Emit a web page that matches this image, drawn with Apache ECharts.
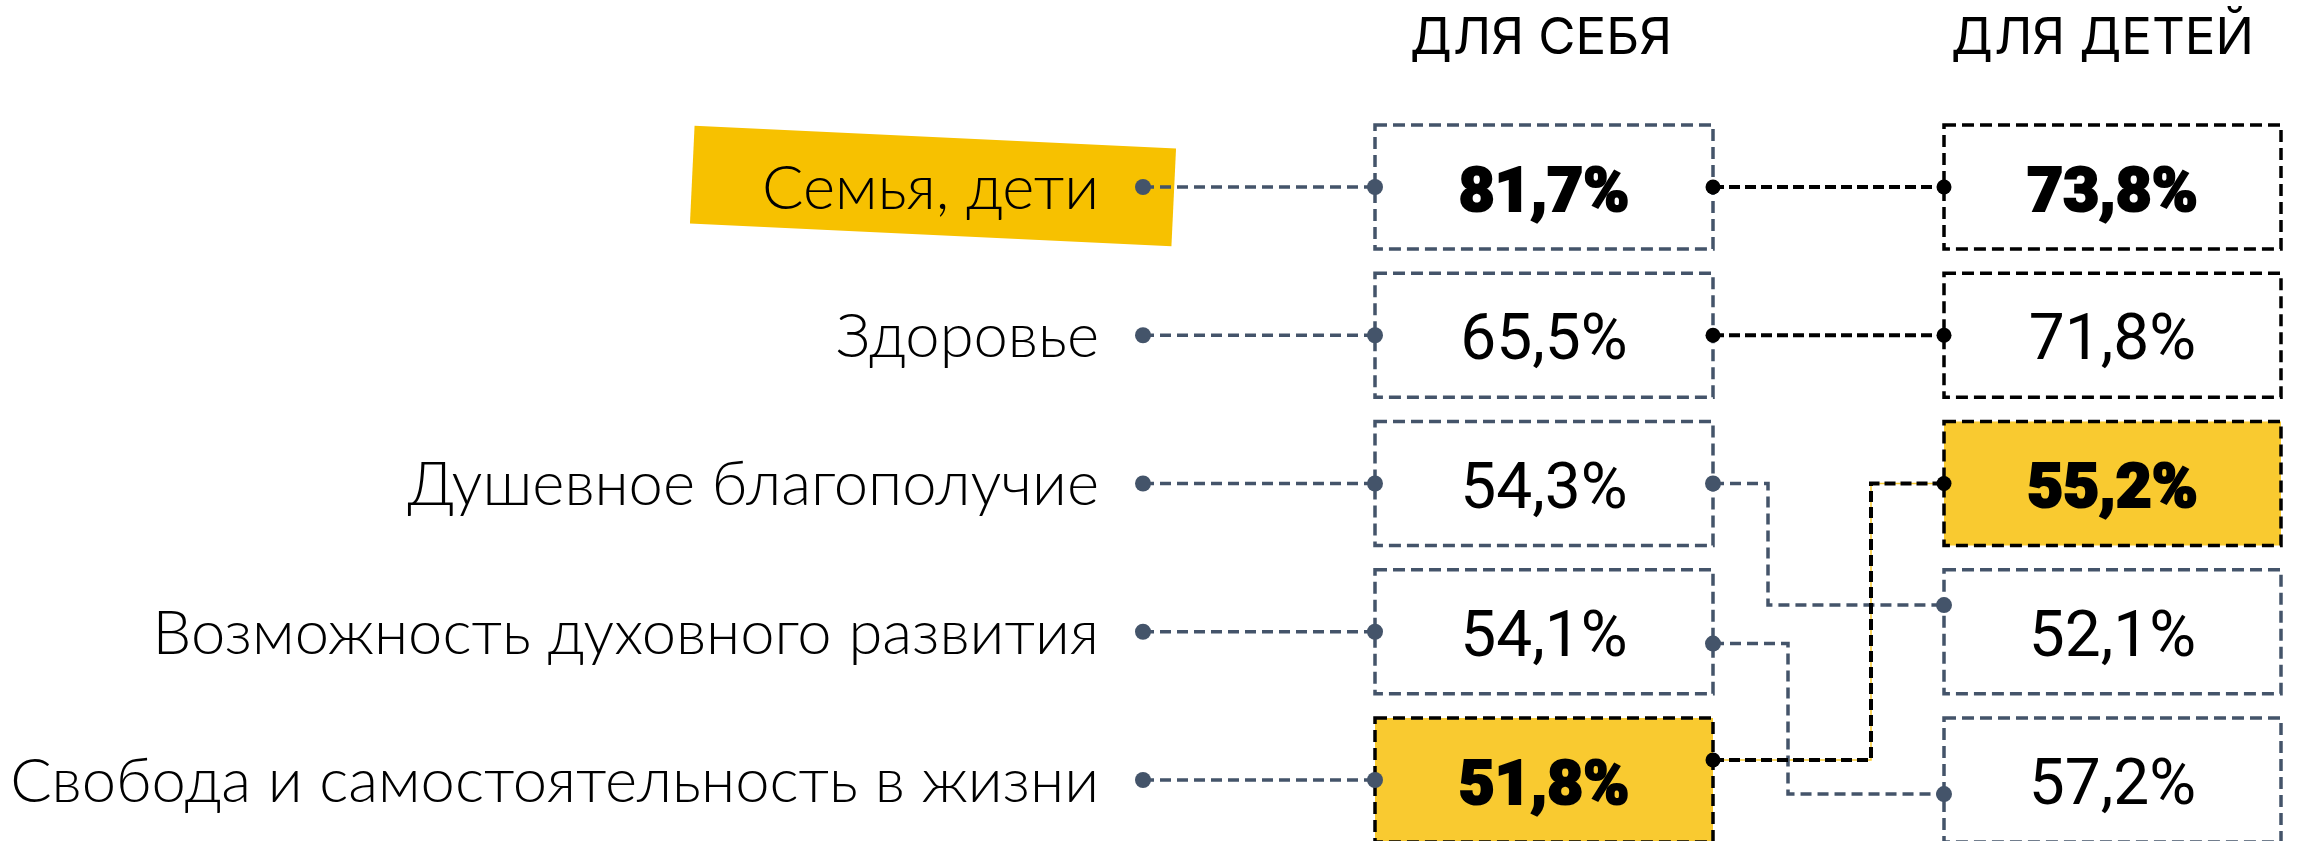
<!DOCTYPE html>
<html>
<head>
<meta charset="utf-8">
<script src="https://cdn.jsdelivr.net/npm/echarts@6/dist/echarts.min.js"></script>
<style>
html, body { margin: 0; padding: 0; background: #fff; }
#chart { width: 2297px; height: 841px; }
</style>
</head>
<body>
<div id="chart"></div>
<script>
// data
const categories = ['Семья, дети', 'Здоровье', 'Душевное благополучие', 'Возможность духовного развития', 'Свобода и самостоятельность в жизни']
const columnTitles = ['ДЛЯ СЕБЯ', 'ДЛЯ ДЕТЕЙ']
const selfValues = [81.7, 65.5, 54.3, 54.1, 51.8]
const childValues = [73.8, 71.8, 52.1, 57.2, 55.2]
// row of each category in the "для детей" column
const childRows = [0, 1, 3, 4, 2]
const boldCats = [0, 4]
const filledCats = [4]
const darkLinkCats = [0, 1, 4]
const markedCat = 0

// look
const SLATE = '#44546A'
const BLACK = '#000000'
const FILL = '#F9CA30'
const MARKER = '#F7C100'
const LABEL_FONT = 'Lato'
const NUM_FONT = 'Roboto'
const TITLE_FONT = 'Inter'
const X = { labelRight: 1099, labelDot: 1143, selfL: 1375, selfR: 1713, childL: 1944, childR: 2281 }
const MARK = { cx: 933, dy: -1, w: 482, h: 98, tilt: 2.7 }
// elbow x and port shifts (in rows) for links that change row
const linkShape = {
  2: { elbow: 1768, from: 0, to: -0.18 },
  3: { elbow: 1788, from: 0.08, to: 0.095 },
  4: { elbow: 1871, from: -0.135, to: 0 }
}

const fmt = v => v.toFixed(1).replace('.', ',') + '%'

function dot(p, color, r) {
  return { type: 'circle', z2: 20, shape: { cx: p[0], cy: p[1], r: r }, style: { fill: color } }
}

function dashLine(points, color, width, dash, z2) {
  return {
    type: 'polyline',
    z2: z2 || 5,
    shape: { points: points },
    style: { stroke: color, lineWidth: width, lineDash: dash, fill: null }
  }
}

function valueBox(api, left, right, row, value, dark, filled, bold) {
  const c = api.coord([(left + right) / 2, row])
  const tl = api.coord([left, row])
  const half = api.size([0, 1])[1] * 0.418
  const wd = api.coord([right, row])[0] - tl[0]
  const text = {
    type: 'text',
    z2: 15,
    style: {
      x: c[0],
      y: c[1] + 8,
      text: fmt(value),
      fill: '#000',
      fontFamily: NUM_FONT,
      fontSize: bold ? 62 : 64,
      fontWeight: bold ? 900 : 400,
      align: 'center',
      verticalAlign: 'middle'
    }
  }
  // a touch heavier for the highlighted numbers
  if (bold) {
    text.style.stroke = '#000'
    text.style.lineWidth = 2.2
  }
  return [
    {
      type: 'rect',
      z2: 10,
      shape: { x: tl[0], y: c[1] - half, width: wd, height: half * 2 },
      style: {
        fill: filled ? FILL : '#fff',
        stroke: dark ? BLACK : SLATE,
        lineWidth: 3.5,
        lineDash: [12, 6]
      }
    },
    text
  ]
}

function renderRow(params, api) {
  const i = api.value(0)
  const cRow = childRows[i]
  const dark = darkLinkCats.includes(i)
  const filled = filledCats.includes(i)
  const bold = boldCats.includes(i)
  const linkColor = dark ? BLACK : SLATE
  const children = []

  if (i === markedCat) {
    const c = api.coord([MARK.cx, i])
    const a = MARK.tilt * Math.PI / 180
    const pts = [[-1, -1], [1, -1], [1, 1], [-1, 1]].map(([sx, sy]) => {
      const dx = sx * MARK.w / 2
      const dy = sy * MARK.h / 2
      return [c[0] + dx * Math.cos(a) - dy * Math.sin(a), c[1] + MARK.dy + dx * Math.sin(a) + dy * Math.cos(a)]
    })
    children.push({ type: 'polygon', z2: 1, shape: { points: pts }, style: { fill: MARKER } })
  }

  const lab = api.coord([X.labelRight, i])
  children.push({
    type: 'text',
    z2: 15,
    style: {
      x: lab[0],
      y: lab[1] + 2,
      text: categories[i],
      fill: '#000',
      fontFamily: LABEL_FONT,
      fontSize: 61.5,
      fontWeight: 300,
      align: 'right',
      verticalAlign: 'middle'
    }
  })

  const p0 = api.coord([X.labelDot, i])
  const p1 = api.coord([X.selfL, i])
  children.push(dashLine([p0, p1], SLATE, 3.5, [11, 6]))
  children.push(dot(p0, SLATE, 8), dot(p1, SLATE, 8))

  children.push(...valueBox(api, X.selfL, X.selfR, i, selfValues[i], filled, filled, bold))
  children.push(...valueBox(api, X.childL, X.childR, cRow, childValues[i], dark, filled, bold))

  // link between the two columns
  const ls = linkShape[i]
  let pts
  if (!ls) {
    pts = [api.coord([X.selfR, i]), api.coord([X.childL, cRow])]
  } else {
    const y0 = i + ls.from
    const y1 = cRow + ls.to
    pts = [api.coord([X.selfR, y0]), api.coord([ls.elbow, y0]), api.coord([ls.elbow, y1]), api.coord([X.childL, y1])]
  }
  if (filled) children.push({ type: 'polyline', z2: 4, shape: { points: pts }, style: { stroke: FILL, lineWidth: 1.5, fill: null } })
  children.push(dashLine(pts, linkColor, dark ? 4 : 3.5, dark ? [11, 5] : [11, 6]))
  children.push(dot(pts[0], linkColor, dark ? 7.5 : 8), dot(pts[pts.length - 1], linkColor, dark ? 7.5 : 8))

  return { type: 'group', children: children }
}

function renderTitle(params, api) {
  const k = api.value(0)
  const c = k === 0 ? (X.selfL + X.selfR) / 2 : (X.childL + X.childR) / 2
  const p = api.coord([c - (k === 0 ? 3 : 10), -1])
  return {
    type: 'text',
    style: {
      x: p[0],
      y: p[1],
      text: columnTitles[k],
      fill: '#000',
      fontFamily: TITLE_FONT,
      fontSize: 51,
      fontWeight: 400,
      align: 'center',
      verticalAlign: 'middle'
    }
  }
}

const chart = echarts.init(document.getElementById('chart'))
chart.setOption({
  animation: false,
  backgroundColor: '#fff',
  grid: { left: 0, right: 0, top: 187, bottom: 61 },
  xAxis: { type: 'value', min: 0, max: 2297, show: false },
  yAxis: { type: 'value', min: 0, max: 4, inverse: true, show: false },
  series: [
    {
      type: 'custom',
      silent: true,
      clip: false,
      renderItem: renderRow,
      data: categories.map((c, i) => [i, i])
    },
    {
      type: 'custom',
      silent: true,
      clip: false,
      renderItem: renderTitle,
      data: columnTitles.map((t, k) => [k, -1])
    }
  ]
})
</script>
</body>
</html>
